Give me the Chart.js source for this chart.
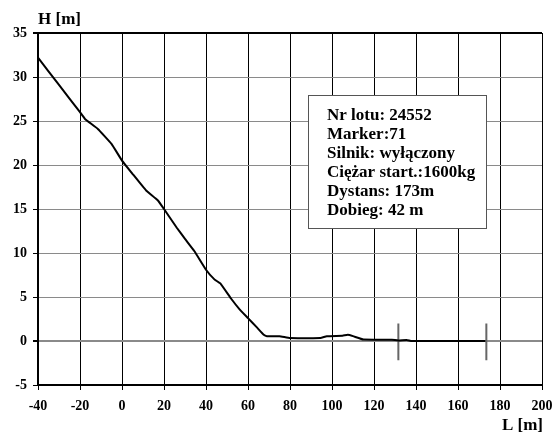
<!DOCTYPE html>
<html lang="pl">
<head>
    <meta charset="UTF-8">
    <title>Profil lądowania</title>
    <script src="https://cdn.jsdelivr.net/npm/chart.js"></script>
    <style>
        body { margin: 0; background: #fff; }
        #chart { display: block; }
    </style>
</head>
<body>
    <canvas id="chart" width="553" height="433"></canvas>

    <script>
        // track: L [m] vs H [m]
        const trackL = [-40, -30, -20, -17.5, -11.5, -5, 0, 5, 11.5, 17, 20, 26, 30, 34.5, 40, 44, 47, 52, 56, 60, 64, 67.5, 69, 75, 80, 94.5, 97.5, 105, 107.5, 110, 115, 128.5, 131.5, 135.5, 138, 173];
        const trackH = [32.2, 29.1, 26.0, 25.2, 24.1, 22.4, 20.5, 19.0, 17.1, 16.0, 15.0, 12.9, 11.6, 10.2, 8.1, 7.0, 6.5, 4.8, 3.6, 2.6, 1.6, 0.7, 0.55, 0.55, 0.35, 0.35, 0.55, 0.6, 0.7, 0.55, 0.17, 0.15, 0.05, 0.12, 0, 0];

        // marker positions (touchdown / stop)
        const markerL = [131.6, 173.5];
        const markerTop = 2.0;
        const markerBottom = -2.2;

        const infoLines = [
            'Nr lotu: 24552',
            'Marker:71',
            'Silnik: wyłączony',
            'Ciężar start.:1600kg',
            'Dystans: 173m',
            'Dobieg: 42 m'
        ];

        const xMin = -40, xMax = 200, xStep = 20;
        const yMin = -5, yMax = 35, yStep = 5;

        const serif = '"Liberation Serif", "Times New Roman", serif';
        const tickFont = { family: serif, size: 14, weight: 'bold' };

        const datasets = [{
            data: trackL.map((l, i) => ({ x: l, y: trackH[i] })),
            borderColor: '#000',
            borderWidth: 2,
            pointRadius: 0,
            tension: 0.1
        }];
        markerL.forEach(l => {
            datasets.push({
                data: [{ x: l, y: markerTop }, { x: l, y: markerBottom }],
                borderColor: '#666',
                borderWidth: 2,
                pointRadius: 0
            });
        });

        // axis titles and the info box
        const extras = {
            id: 'extras',
            afterDraw(chart) {
                const ctx = chart.ctx;
                const x = chart.scales.x, y = chart.scales.y;
                ctx.save();
                ctx.fillStyle = '#000';
                ctx.font = 'bold 17px ' + serif;
                ctx.textBaseline = 'middle';
                ctx.textAlign = 'left';
                ctx.fillText('H [m]', 38, 20);
                ctx.textAlign = 'right';
                ctx.fillText('L [m]', 543, 426);

                // info box anchored in data coordinates
                const bx = Math.round(x.getPixelForValue(88.6)), by = Math.round(y.getPixelForValue(27.9));
                const bw = 178, bh = 133;
                ctx.fillStyle = '#fff';
                ctx.fillRect(bx, by, bw, bh);
                ctx.strokeStyle = '#555';
                ctx.lineWidth = 1;
                ctx.strokeRect(bx + 0.5, by + 0.5, bw, bh);
                ctx.fillStyle = '#000';
                ctx.textAlign = 'left';
                ctx.font = 'bold 17px ' + serif;
                infoLines.forEach((t, i) => {
                    ctx.fillText(t, bx + 19, by + 21 + i * 19);
                });
                ctx.restore();
            }
        };

        new Chart(document.getElementById('chart'), {
            type: 'line',
            data: { datasets },
            options: {
                responsive: false,
                animation: false,
                layout: { padding: { top: 33, right: 11, left: 0, bottom: 0 } },
                plugins: { legend: { display: false }, tooltip: { enabled: false } },
                scales: {
                    x: {
                        type: 'linear',
                        min: xMin, max: xMax,
                        afterFit: s => { s.height = 48; s.paddingRight = 0; s.paddingLeft = 0; },
                        ticks: { stepSize: xStep, color: '#000', font: tickFont, padding: 8, maxRotation: 0 },
                        grid: {
                            color: '#000',
                            lineWidth: 1,
                            tickLength: 5,
                            tickColor: '#000'
                        },
                        border: { color: '#000', width: 2 }
                    },
                    y: {
                        min: yMin, max: yMax,
                        afterFit: s => { s.width = 38; },
                        ticks: { stepSize: yStep, color: '#000', font: tickFont, padding: 6 },
                        grid: {
                            color: c => c.tick && c.tick.value === yMax ? '#000' : '#8a8a8a',
                            lineWidth: c => (c.tick && (c.tick.value === 0 || c.tick.value === yMax)) ? 2 : 1,
                            tickLength: 5,
                            tickColor: '#000'
                        },
                        border: { color: '#000', width: 2 }
                    }
                }
            },
            plugins: [extras]
        });
    </script>
</body>
</html>
